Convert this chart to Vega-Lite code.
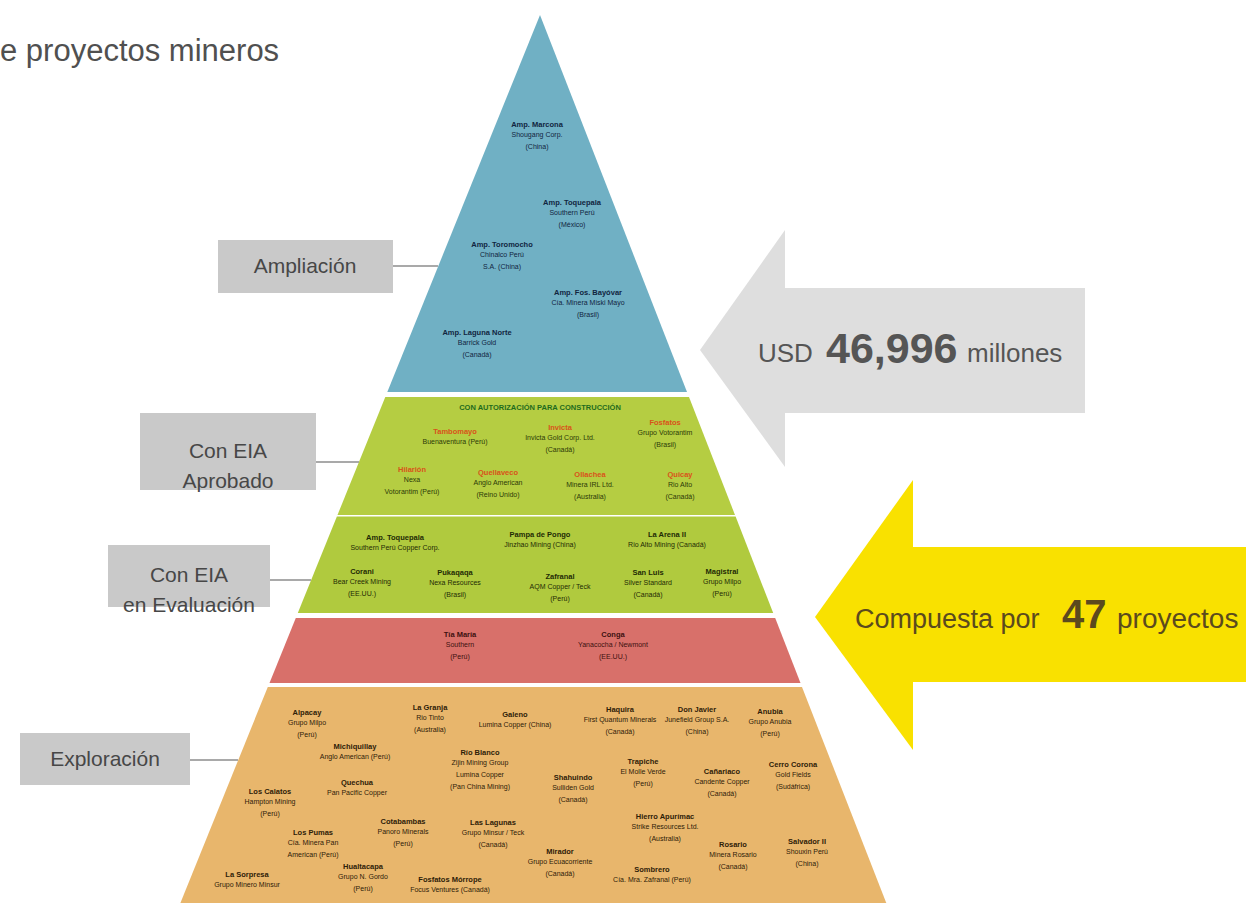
{
  "$schema": "https://vega.github.io/schema/vega-lite/v6.json",
  "width": 1246,
  "height": 903,
  "autosize": {"type": "none"},
  "padding": 0,
  "background": "#ffffff",
  "config": {"view": {"stroke": null}},
  "layer": [
    {
      "data": {"values": [
        {"band": "amp", "c": "#70b0c4", "y": 15, "x": 540, "x2": 540},
        {"band": "amp", "c": "#70b0c4", "y": 392, "x": 387.3, "x2": 687},
        {"band": "apr", "c": "#b5cd42", "y": 397, "x": 385.3, "x2": 689},
        {"band": "apr", "c": "#b5cd42", "y": 515, "x": 337.5, "x2": 735},
        {"band": "eva", "c": "#b0ca3e", "y": 516.5, "x": 336.9, "x2": 735.6},
        {"band": "eva", "c": "#b0ca3e", "y": 613, "x": 297.8, "x2": 773.2},
        {"band": "red", "c": "#d8706a", "y": 618, "x": 295.8, "x2": 775.2},
        {"band": "red", "c": "#d8706a", "y": 683, "x": 269.5, "x2": 800.5},
        {"band": "exp", "c": "#e8b66c", "y": 687, "x": 267.8, "x2": 802},
        {"band": "exp", "c": "#e8b66c", "y": 903, "x": 180.4, "x2": 886.3},
        {"band": "gris", "c": "#dedede", "y": 230, "x": 785, "x2": 785},
        {"band": "gris", "c": "#dedede", "y": 350, "x": 700, "x2": 785},
        {"band": "gris", "c": "#dedede", "y": 467, "x": 785, "x2": 785},
        {"band": "amar", "c": "#f9e100", "y": 480, "x": 913, "x2": 913},
        {"band": "amar", "c": "#f9e100", "y": 617, "x": 815, "x2": 913},
        {"band": "amar", "c": "#f9e100", "y": 750, "x": 913, "x2": 913}
      ]},
      "mark": {"type": "area", "orient": "horizontal", "interpolate": "linear"},
      "encoding": {
        "y": {"field": "y", "type": "quantitative", "scale": {"domain": [0, 903], "nice": false, "zero": false, "reverse": true}, "axis": null},
        "x": {"field": "x", "type": "quantitative", "scale": {"domain": [0, 1246], "nice": false, "zero": false}, "axis": null, "stack": null},
        "x2": {"field": "x2"},
        "color": {"field": "c", "type": "nominal", "scale": null},
        "detail": {"field": "band", "type": "nominal"}
      }
    },
    {
      "data": {"values": [
        {"c": "#dedede", "x": 784, "x2": 1085, "y": 288, "y2": 413},
        {"c": "#f9e100", "x": 912, "x2": 1246, "y": 547, "y2": 682},
        {"c": "#c9c9c9", "x": 218, "x2": 393, "y": 240, "y2": 293},
        {"c": "#c9c9c9", "x": 140, "x2": 316, "y": 413, "y2": 490},
        {"c": "#c9c9c9", "x": 108, "x2": 270, "y": 545, "y2": 607},
        {"c": "#c9c9c9", "x": 20, "x2": 190, "y": 733, "y2": 785}
      ]},
      "mark": {"type": "rect"},
      "encoding": {
        "x": {"field": "x", "type": "quantitative", "scale": {"domain": [0, 1246], "nice": false, "zero": false}, "axis": null},
        "x2": {"field": "x2"},
        "y": {"field": "y", "type": "quantitative", "scale": {"domain": [0, 903], "nice": false, "zero": false, "reverse": true}, "axis": null},
        "y2": {"field": "y2"},
        "color": {"field": "c", "type": "nominal", "scale": null}
      }
    },
    {
      "data": {"values": [
        {"x": 393, "x2": 438, "y": 266},
        {"x": 316, "x2": 359, "y": 462},
        {"x": 270, "x2": 311, "y": 580},
        {"x": 190, "x2": 238, "y": 760}
      ]},
      "mark": {"type": "rule", "color": "#8c8c8c", "strokeWidth": 1.5},
      "encoding": {
        "x": {"field": "x", "type": "quantitative", "scale": {"domain": [0, 1246], "nice": false, "zero": false}, "axis": null},
        "x2": {"field": "x2"},
        "y": {"field": "y", "type": "quantitative", "scale": {"domain": [0, 903], "nice": false, "zero": false, "reverse": true}, "axis": null}
      }
    },
    {
      "data": {"values": [
        {"x": 305, "y": 267, "t": "Ampliación"},
        {"x": 228, "y": 452, "t": "Con EIA\nAprobado"},
        {"x": 189, "y": 576, "t": "Con EIA\nen Evaluación"},
        {"x": 105, "y": 760, "t": "Exploración"}
      ]},
      "mark": {"type": "text", "font": "Liberation Sans, Arial, sans-serif", "fontSize": 21, "color": "#474747", "align": "center", "baseline": "middle", "lineBreak": "\n", "lineHeight": 30},
      "encoding": {
        "x": {"field": "x", "type": "quantitative", "scale": {"domain": [0, 1246], "nice": false, "zero": false}, "axis": null},
        "y": {"field": "y", "type": "quantitative", "scale": {"domain": [0, 903], "nice": false, "zero": false, "reverse": true}, "axis": null},
        "text": {"field": "t"}
      }
    },
    {
      "data": {"values": [
        {"x": 0, "y": 61, "t": "e proyectos mineros", "s": 31, "c": "#505050"},
        {"x": 758, "y": 362, "t": "USD", "s": 26, "c": "#555555"},
        {"x": 967, "y": 362, "t": "millones", "s": 26, "c": "#555555"},
        {"x": 855, "y": 628, "t": "Compuesta por", "s": 27, "c": "#5b4a1e"},
        {"x": 1117, "y": 628, "t": "proyectos", "s": 28, "c": "#5b4a1e"}
      ]},
      "mark": {"type": "text", "font": "Liberation Sans, Arial, sans-serif", "align": "left", "baseline": "alphabetic"},
      "encoding": {
        "x": {"field": "x", "type": "quantitative", "scale": {"domain": [0, 1246], "nice": false, "zero": false}, "axis": null},
        "y": {"field": "y", "type": "quantitative", "scale": {"domain": [0, 903], "nice": false, "zero": false, "reverse": true}, "axis": null},
        "text": {"field": "t"},
        "size": {"field": "s", "type": "quantitative", "scale": null},
        "color": {"field": "c", "type": "nominal", "scale": null}
      }
    },
    {
      "data": {"values": [
        {"x": 826, "y": 363, "t": "46,996", "s": 43, "c": "#555555"},
        {"x": 1062, "y": 628, "t": "47", "s": 40, "c": "#5b4a1e"}
      ]},
      "mark": {"type": "text", "font": "Liberation Sans, Arial, sans-serif", "fontWeight": "bold", "align": "left", "baseline": "alphabetic"},
      "encoding": {
        "x": {"field": "x", "type": "quantitative", "scale": {"domain": [0, 1246], "nice": false, "zero": false}, "axis": null},
        "y": {"field": "y", "type": "quantitative", "scale": {"domain": [0, 903], "nice": false, "zero": false, "reverse": true}, "axis": null},
        "text": {"field": "t"},
        "size": {"field": "s", "type": "quantitative", "scale": null},
        "color": {"field": "c", "type": "nominal", "scale": null}
      }
    },
    {
      "data": {"name": "proj"},
      "mark": {"type": "text", "font": "Liberation Sans, Arial, sans-serif", "fontWeight": "bold", "fontSize": 7.5, "align": "center", "baseline": "middle"},
      "encoding": {
        "x": {"field": "x", "type": "quantitative", "scale": {"domain": [0, 1246], "nice": false, "zero": false}, "axis": null},
        "y": {"field": "y", "type": "quantitative", "scale": {"domain": [0, 903], "nice": false, "zero": false, "reverse": true}, "axis": null},
        "text": {"field": "n"},
        "color": {"field": "nc", "type": "nominal", "scale": null}
      }
    },
    {
      "data": {"name": "proj"},
      "mark": {"type": "text", "font": "Liberation Sans, Arial, sans-serif", "fontSize": 7, "align": "center", "baseline": "top", "dy": 6, "lineBreak": "\n", "lineHeight": 12},
      "encoding": {
        "x": {"field": "x", "type": "quantitative", "scale": {"domain": [0, 1246], "nice": false, "zero": false}, "axis": null},
        "y": {"field": "y", "type": "quantitative", "scale": {"domain": [0, 903], "nice": false, "zero": false, "reverse": true}, "axis": null},
        "text": {"field": "d"},
        "color": {"field": "dc", "type": "nominal", "scale": null}
      }
    }
  ],
  "datasets": {
    "proj": [
      {"x": 537, "y": 125, "n": "Amp. Marcona", "d": "Shougang Corp.\n(China)", "nc": "#10253f", "dc": "#10253f"},
      {"x": 572, "y": 203, "n": "Amp. Toquepala", "d": "Southern Perú\n(México)", "nc": "#10253f", "dc": "#10253f"},
      {"x": 502, "y": 245, "n": "Amp. Toromocho", "d": "Chinalco Perú\nS.A. (China)", "nc": "#10253f", "dc": "#10253f"},
      {"x": 588, "y": 293, "n": "Amp. Fos. Bayóvar", "d": "Cía. Minera Miski Mayo\n(Brasil)", "nc": "#10253f", "dc": "#10253f"},
      {"x": 477, "y": 333, "n": "Amp. Laguna Norte", "d": "Barrick Gold\n(Canadá)", "nc": "#10253f", "dc": "#10253f"},
      {"x": 540, "y": 408, "n": "CON AUTORIZACIÓN PARA CONSTRUCCIÓN", "d": "", "nc": "#1e6b1e", "dc": "#1e6b1e"},
      {"x": 455, "y": 432, "n": "Tambomayo", "d": "Buenaventura (Perú)", "nc": "#d9531a", "dc": "#2c3a08"},
      {"x": 560, "y": 428, "n": "Invicta", "d": "Invicta Gold Corp. Ltd.\n(Canadá)", "nc": "#d9531a", "dc": "#2c3a08"},
      {"x": 665, "y": 423, "n": "Fosfatos", "d": "Grupo Votorantim\n(Brasil)", "nc": "#d9531a", "dc": "#2c3a08"},
      {"x": 412, "y": 470, "n": "Hilarión", "d": "Nexa\nVotorantim (Perú)", "nc": "#d9531a", "dc": "#2c3a08"},
      {"x": 498, "y": 473, "n": "Quellaveco", "d": "Anglo American\n(Reino Unido)", "nc": "#d9531a", "dc": "#2c3a08"},
      {"x": 590, "y": 475, "n": "Ollachea", "d": "Minera IRL Ltd.\n(Australia)", "nc": "#d9531a", "dc": "#2c3a08"},
      {"x": 680, "y": 475, "n": "Quicay", "d": "Rio Alto\n(Canadá)", "nc": "#d9531a", "dc": "#2c3a08"},
      {"x": 395, "y": 538, "n": "Amp. Toquepala", "d": "Southern Perú Copper Corp.", "nc": "#1f2a05", "dc": "#1f2a05"},
      {"x": 540, "y": 535, "n": "Pampa de Pongo", "d": "Jinzhao Mining (China)", "nc": "#1f2a05", "dc": "#1f2a05"},
      {"x": 667, "y": 535, "n": "La Arena II", "d": "Rio Alto Mining (Canadá)", "nc": "#1f2a05", "dc": "#1f2a05"},
      {"x": 362, "y": 572, "n": "Corani", "d": "Bear Creek Mining\n(EE.UU.)", "nc": "#1f2a05", "dc": "#1f2a05"},
      {"x": 455, "y": 573, "n": "Pukaqaqa", "d": "Nexa Resources\n(Brasil)", "nc": "#1f2a05", "dc": "#1f2a05"},
      {"x": 560, "y": 577, "n": "Zafranal", "d": "AQM Copper / Teck\n(Perú)", "nc": "#1f2a05", "dc": "#1f2a05"},
      {"x": 648, "y": 573, "n": "San Luis", "d": "Silver Standard\n(Canadá)", "nc": "#1f2a05", "dc": "#1f2a05"},
      {"x": 722, "y": 572, "n": "Magistral", "d": "Grupo Milpo\n(Perú)", "nc": "#1f2a05", "dc": "#1f2a05"},
      {"x": 460, "y": 635, "n": "Tía María", "d": "Southern\n(Perú)", "nc": "#3d1010", "dc": "#3d1010"},
      {"x": 613, "y": 635, "n": "Conga", "d": "Yanacocha / Newmont\n(EE.UU.)", "nc": "#3d1010", "dc": "#3d1010"},
      {"x": 307, "y": 713, "n": "Alpacay", "d": "Grupo Milpo\n(Perú)", "nc": "#2e2008", "dc": "#2e2008"},
      {"x": 430, "y": 708, "n": "La Granja", "d": "Rio Tinto\n(Australia)", "nc": "#2e2008", "dc": "#2e2008"},
      {"x": 515, "y": 715, "n": "Galeno", "d": "Lumina Copper (China)", "nc": "#2e2008", "dc": "#2e2008"},
      {"x": 355, "y": 747, "n": "Michiquillay", "d": "Anglo American (Perú)", "nc": "#2e2008", "dc": "#2e2008"},
      {"x": 480, "y": 753, "n": "Río Blanco", "d": "Zijin Mining Group\nLumina Copper\n(Pan China Mining)", "nc": "#2e2008", "dc": "#2e2008"},
      {"x": 357, "y": 783, "n": "Quechua", "d": "Pan Pacific Copper", "nc": "#2e2008", "dc": "#2e2008"},
      {"x": 270, "y": 792, "n": "Los Calatos", "d": "Hampton Mining\n(Perú)", "nc": "#2e2008", "dc": "#2e2008"},
      {"x": 403, "y": 822, "n": "Cotabambas", "d": "Panoro Minerals\n(Perú)", "nc": "#2e2008", "dc": "#2e2008"},
      {"x": 493, "y": 823, "n": "Las Lagunas", "d": "Grupo Minsur / Teck\n(Canadá)", "nc": "#2e2008", "dc": "#2e2008"},
      {"x": 313, "y": 833, "n": "Los Pumas", "d": "Cía. Minera Pan\nAmerican (Perú)", "nc": "#2e2008", "dc": "#2e2008"},
      {"x": 363, "y": 867, "n": "Hualtacapa", "d": "Grupo N. Gordo\n(Perú)", "nc": "#2e2008", "dc": "#2e2008"},
      {"x": 247, "y": 875, "n": "La Sorpresa", "d": "Grupo Minero Minsur", "nc": "#2e2008", "dc": "#2e2008"},
      {"x": 450, "y": 880, "n": "Fosfatos Mórrope", "d": "Focus Ventures (Canadá)", "nc": "#2e2008", "dc": "#2e2008"},
      {"x": 560, "y": 852, "n": "Mirador", "d": "Grupo Ecuacorriente\n(Canadá)", "nc": "#2e2008", "dc": "#2e2008"},
      {"x": 620, "y": 710, "n": "Haquira", "d": "First Quantum Minerals\n(Canadá)", "nc": "#2e2008", "dc": "#2e2008"},
      {"x": 697, "y": 710, "n": "Don Javier", "d": "Junefield Group S.A.\n(China)", "nc": "#2e2008", "dc": "#2e2008"},
      {"x": 770, "y": 712, "n": "Anubia", "d": "Grupo Anubia\n(Perú)", "nc": "#2e2008", "dc": "#2e2008"},
      {"x": 573, "y": 778, "n": "Shahuindo", "d": "Sulliden Gold\n(Canadá)", "nc": "#2e2008", "dc": "#2e2008"},
      {"x": 643, "y": 762, "n": "Trapiche", "d": "El Molle Verde\n(Perú)", "nc": "#2e2008", "dc": "#2e2008"},
      {"x": 722, "y": 772, "n": "Cañariaco", "d": "Candente Copper\n(Canadá)", "nc": "#2e2008", "dc": "#2e2008"},
      {"x": 793, "y": 765, "n": "Cerro Corona", "d": "Gold Fields\n(Sudáfrica)", "nc": "#2e2008", "dc": "#2e2008"},
      {"x": 665, "y": 817, "n": "Hierro Apurímac", "d": "Strike Resources Ltd.\n(Australia)", "nc": "#2e2008", "dc": "#2e2008"},
      {"x": 733, "y": 845, "n": "Rosario", "d": "Minera Rosario\n(Canadá)", "nc": "#2e2008", "dc": "#2e2008"},
      {"x": 807, "y": 842, "n": "Salvador II", "d": "Shouxin Perú\n(China)", "nc": "#2e2008", "dc": "#2e2008"},
      {"x": 652, "y": 870, "n": "Sombrero", "d": "Cía. Mra. Zafranal (Perú)", "nc": "#2e2008", "dc": "#2e2008"}
    ]
  }
}
